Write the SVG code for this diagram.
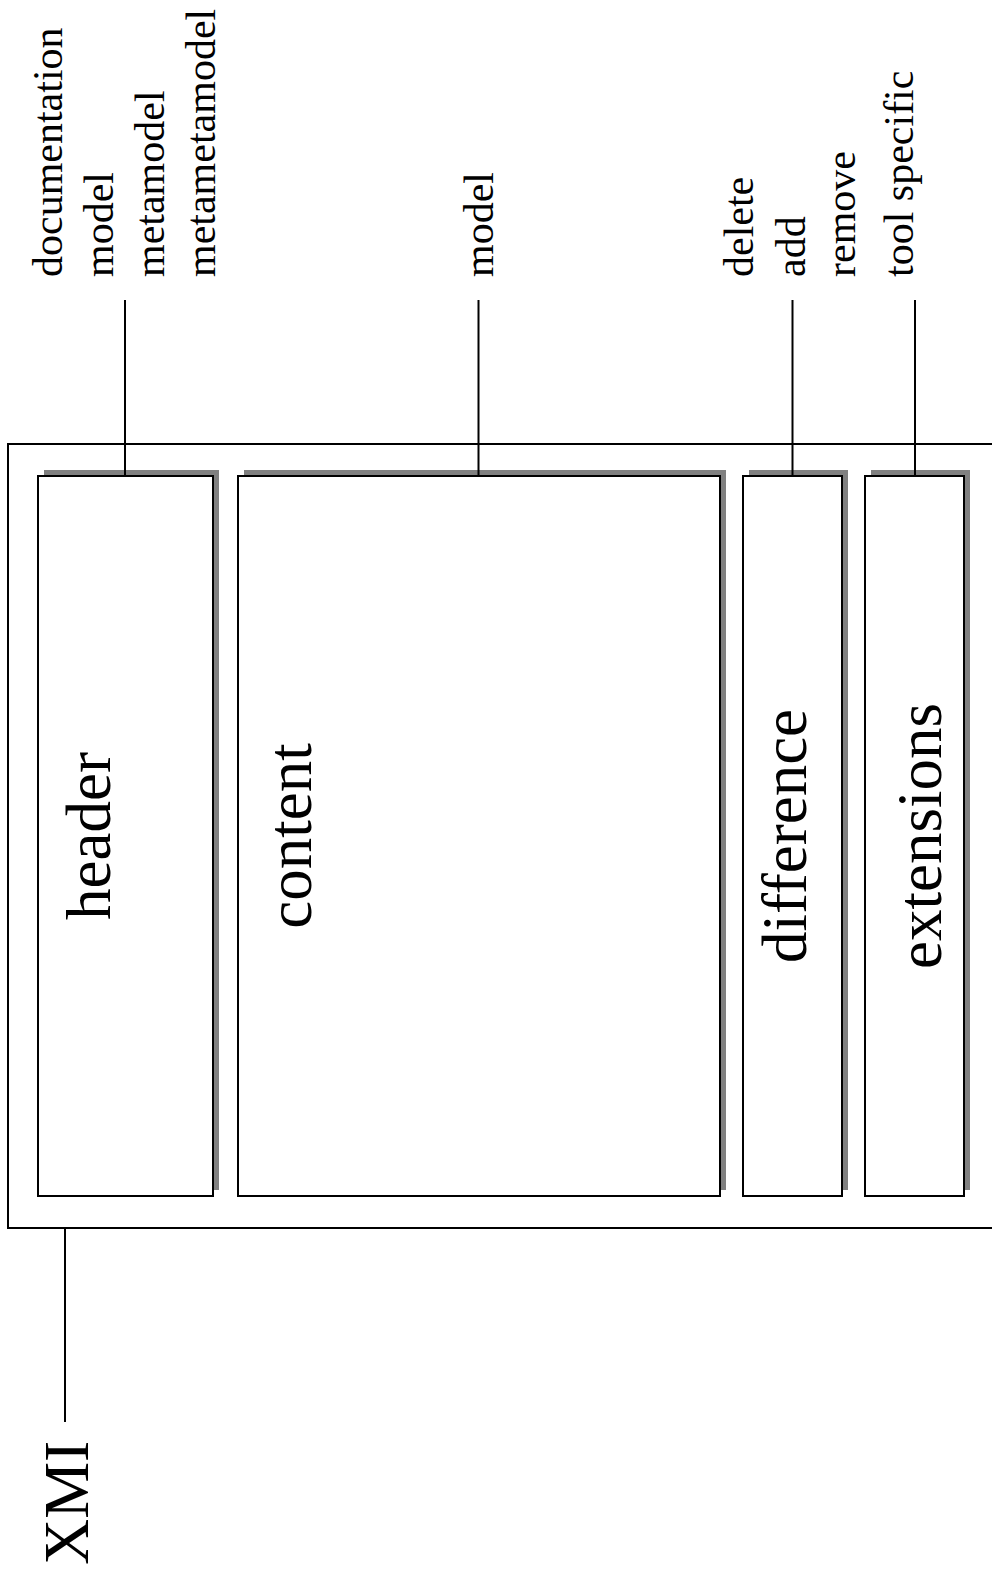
<svg xmlns="http://www.w3.org/2000/svg" width="992" height="1576" viewBox="0 0 992 1576">
  <style>
    text { font-family: "Liberation Serif", "Times New Roman", serif; fill: #000; }
    .small { font-size: 42px; }
    .big { font-size: 63px; text-anchor: middle; }
    .frame { fill: #fff; stroke: #000; stroke-width: 2; }
    .shadow { fill: #808080; }
    .box { fill: #fff; stroke: #000; stroke-width: 2; }
    .link { stroke: #000; stroke-width: 2; fill: none; }
  </style>
  <rect width="992" height="1576" fill="#fff"/>

  <!-- XMI container -->
  <g id="xmi">
    <rect class="frame" x="8" y="444" width="1010" height="784"/>
    <text transform="translate(88,1565) rotate(-90)" style="font-size:64px">XMI</text>
  </g>

  <g id="header">
    <rect class="shadow" x="44" y="470" width="175" height="720"/>
    <rect class="box" x="38" y="476" width="175" height="720"/>
    <text class="big" transform="translate(110,836) rotate(-90)">header</text>
  </g>

  <g id="content">
    <rect class="shadow" x="244" y="470" width="482" height="720"/>
    <rect class="box" x="238" y="476" width="482" height="720"/>
    <text class="big" transform="translate(311,836) rotate(-90)">content</text>
  </g>

  <g id="difference">
    <rect class="shadow" x="749" y="470" width="99" height="720"/>
    <rect class="box" x="743" y="476" width="99" height="720"/>
    <text class="big" transform="translate(806,836) rotate(-90)">difference</text>
  </g>

  <g id="extensions">
    <rect class="shadow" x="871" y="470" width="99" height="720"/>
    <rect class="box" x="865" y="476" width="99" height="720"/>
    <text class="big" transform="translate(941,836) rotate(-90)">extensions</text>
  </g>

  <!-- annotation labels -->
  <g id="header-labels" class="small">
    <text class="small" transform="translate(62,277) rotate(-90)">documentation</text>
    <text class="small" transform="translate(113,277) rotate(-90)">model</text>
    <text class="small" transform="translate(164,277) rotate(-90)">metamodel</text>
    <text class="small" transform="translate(215,277) rotate(-90)">metametamodel</text>
  </g>
  <g id="content-labels">
    <text class="small" transform="translate(493,277) rotate(-90)">model</text>
  </g>
  <g id="difference-labels">
    <text class="small" transform="translate(753,277) rotate(-90)">delete</text>
    <text class="small" transform="translate(805,277) rotate(-90)">add</text>
    <text class="small" transform="translate(855,277) rotate(-90)">remove</text>
  </g>
  <g id="extensions-labels">
    <text class="small" transform="translate(913,277) rotate(-90)">tool specific</text>
  </g>

  <!-- connectors -->
  <g id="connectors">
    <line class="link" x1="125" y1="300" x2="125" y2="476"/>
    <line class="link" x1="478.5" y1="300" x2="478.5" y2="476"/>
    <line class="link" x1="792.5" y1="300" x2="792.5" y2="476"/>
    <line class="link" x1="915" y1="300" x2="915" y2="476"/>
    <line class="link" x1="65" y1="1228" x2="65" y2="1422"/>
  </g>
</svg>
